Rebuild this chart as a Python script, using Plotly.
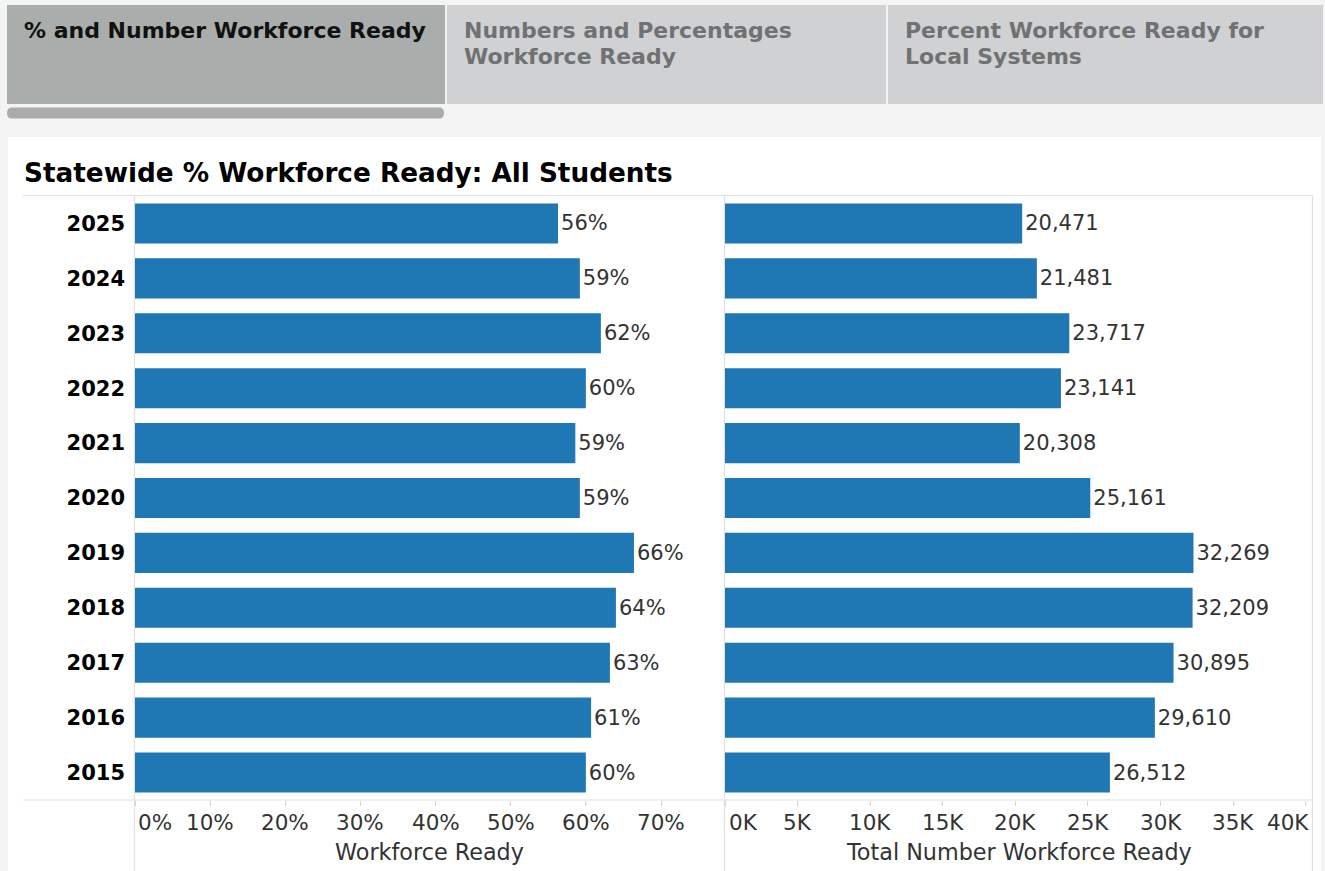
import plotly.graph_objects as go

# ---------------- data ----------------
years = ["2025", "2024", "2023", "2022", "2021", "2020", "2019", "2018", "2017", "2016", "2015"]
pct_ready = [56.3, 59.2, 62.0, 60.0, 58.6, 59.2, 66.4, 64.0, 63.2, 60.7, 60.0]
pct_labels = ["56%", "59%", "62%", "60%", "59%", "59%", "66%", "64%", "63%", "61%", "60%"]
num_ready = [20471, 21481, 23717, 23141, 20308, 25161, 32269, 32209, 30895, 29610, 26512]
num_labels = ["20,471", "21,481", "23,717", "23,141", "20,308", "25,161", "32,269", "32,209", "30,895", "29,610", "26,512"]
pct_ticks = [0, 10, 20, 30, 40, 50, 60, 70]
pct_tick_text = ["0%", "10%", "20%", "30%", "40%", "50%", "60%", "70%"]
num_ticks = [0, 5000, 10000, 15000, 20000, 25000, 30000, 35000, 40000]
num_tick_text = ["0K", "5K", "10K", "15K", "20K", "25K", "30K", "35K", "40K"]
tab1_lines = ["% and Number Workforce Ready"]
tab2_lines = ["Numbers and Percentages", "Workforce Ready"]
tab3_lines = ["Percent Workforce Ready for", "Local Systems"]
title_text = "Statewide % Workforce Ready: All Students"
x1_title = "Workforce Ready"
x2_title = "Total Number Workforce Ready"

W, H = 1325, 871
FONT = "DejaVu Sans"
BLUE = "#1f77b4"
LINE = "#e0e0e0"


def px(x):
    return x / W


def py(y):
    return 1 - y / H


fig = go.Figure()
fig.add_trace(go.Bar(
    y=years, x=pct_ready, orientation="h", marker=dict(color=BLUE, line=dict(width=0)),
    text=pct_labels, textposition="outside", cliponaxis=False,
    textfont=dict(family=FONT, size=21, color="#333333"),
    xaxis="x", yaxis="y", hoverinfo="skip", showlegend=False))
fig.add_trace(go.Bar(
    y=years, x=num_ready, orientation="h", marker=dict(color=BLUE, line=dict(width=0)),
    text=num_labels, textposition="outside", cliponaxis=False,
    textfont=dict(family=FONT, size=21, color="#333333"),
    xaxis="x2", yaxis="y2", hoverinfo="skip", showlegend=False))

plot_top, plot_bot = 196, 800
x1_l, x1_r = 135, 724
x2_l, x2_r = 725, 1312
x1_max = 70 * (x1_r - x1_l) / (661 - x1_l)
x2_max = 40000 * (x2_r - x2_l) / (1305.7 - x2_l)

axis_common = dict(showgrid=False, zeroline=False, showline=False, showticklabels=False,
                   ticks="outside", ticklen=5, tickcolor="#d6d6d6", tickwidth=1,
                   fixedrange=True)
ydomain = [py(plot_bot), py(plot_top)]
fig.update_layout(
    width=W, height=H, margin=dict(l=0, r=0, t=0, b=0),
    paper_bgcolor="#f4f4f4", plot_bgcolor="rgba(0,0,0,0)",
    bargap=0.27,
    xaxis=dict(domain=[px(x1_l), px(x1_r)], range=[0, x1_max], tickvals=pct_ticks,
               anchor="y", **axis_common),
    xaxis2=dict(domain=[px(x2_l), px(x2_r)], range=[0, x2_max], tickvals=num_ticks,
                anchor="y2", **axis_common),
    yaxis=dict(domain=ydomain, autorange="reversed", type="category", showgrid=False,
               zeroline=False, showline=False, ticks="", ticklabelstandoff=9,
               tickfont=dict(family=FONT, size=21, color="#000000", weight="bold"),
               anchor="x", fixedrange=True),
    yaxis2=dict(domain=ydomain, autorange="reversed", type="category", showgrid=False,
                zeroline=False, showline=False, ticks="", showticklabels=False,
                anchor="x2", matches="y", fixedrange=True),
    font=dict(family=FONT),
)

shapes = []
# white panel
shapes.append(dict(type="rect", xref="paper", yref="paper", x0=px(8), x1=px(1321),
                   y0=0, y1=py(137), fillcolor="#ffffff", line=dict(width=0), layer="below"))
# tabs
shapes.append(dict(type="rect", xref="paper", yref="paper", x0=px(7), x1=px(445),
                   y0=py(104), y1=py(5), fillcolor="#a9aeac", line=dict(width=0), layer="below"))
shapes.append(dict(type="rect", xref="paper", yref="paper", x0=px(447), x1=px(886),
                   y0=py(104), y1=py(5), fillcolor="#d0d1d3", line=dict(width=0), layer="below"))
shapes.append(dict(type="rect", xref="paper", yref="paper", x0=px(888), x1=px(1323),
                   y0=py(104), y1=py(5), fillcolor="#d0d1d3", line=dict(width=0), layer="below"))
# scroll pill
shapes.append(dict(type="path", xref="paper", yref="paper",
                   path=f"M {px(12)},{py(107.5)} L {px(439)},{py(107.5)} "
                        f"Q {px(444)},{py(107.5)} {px(444)},{py(113)} "
                        f"Q {px(444)},{py(118.5)} {px(439)},{py(118.5)} "
                        f"L {px(12)},{py(118.5)} Q {px(7)},{py(118.5)} {px(7)},{py(113)} "
                        f"Q {px(7)},{py(107.5)} {px(12)},{py(107.5)} Z",
                   fillcolor="#ababab", line=dict(width=0), layer="below"))
# frame lines
for yy in (195.5, 800):
    shapes.append(dict(type="line", xref="paper", yref="paper", x0=px(23), x1=px(1312.5),
                       y0=py(yy), y1=py(yy), line=dict(color=LINE, width=1.2), layer="below"))
for xx in (134.5, 724.5, 1312.5):
    shapes.append(dict(type="line", xref="paper", yref="paper", x0=px(xx), x1=px(xx),
                       y0=0, y1=py(195.5), line=dict(color=LINE, width=1.2), layer="below"))

annotations = []
for lines, x0, col in ((tab1_lines, 22, "#111111"), (tab2_lines, 462, "#707172"),
                       (tab3_lines, 903, "#707172")):
    for k, ln in enumerate(lines):
        annotations.append(dict(text=f"<b>{ln}</b>", x=px(x0), y=py(31 + 26 * k),
                                xref="paper", yref="paper", xanchor="left", yanchor="middle",
                                showarrow=False, font=dict(family=FONT, size=22, color=col)))
annotations.append(dict(text=f"<b>{title_text}</b>", x=px(22), y=py(173), xref="paper", yref="paper",
                        xanchor="left", yanchor="middle", showarrow=False,
                        font=dict(family=FONT, size=26.3, color="#000000")))
# tick labels
for i, (v, t) in enumerate(zip(pct_ticks, pct_tick_text)):
    anc, sh = ("left", 1) if i == 0 else ("center", 0)
    annotations.append(dict(text=t, x=v, xref="x", y=py(822), yref="paper", xanchor=anc,
                            xshift=sh, yanchor="middle", showarrow=False,
                            font=dict(family=FONT, size=21.5, color="#333333")))
for i, (v, t) in enumerate(zip(num_ticks, num_tick_text)):
    if i == 0:
        anc, sh = "left", 2
    elif i == len(num_ticks) - 1:
        anc, sh = "right", 5
    else:
        anc, sh = "center", 0
    annotations.append(dict(text=t, x=v, xref="x2", y=py(822), yref="paper", xanchor=anc,
                            xshift=sh, yanchor="middle", showarrow=False,
                            font=dict(family=FONT, size=21.5, color="#333333")))
annotations.append(dict(text=x1_title, x=px((x1_l + x1_r) / 2), y=py(852), xref="paper", yref="paper",
                        xanchor="center", yanchor="middle", showarrow=False,
                        font=dict(family=FONT, size=22.3, color="#333333")))
annotations.append(dict(text=x2_title, x=px((x2_l + x2_r) / 2), y=py(852), xref="paper", yref="paper",
                        xanchor="center", yanchor="middle", showarrow=False,
                        font=dict(family=FONT, size=22.3, color="#333333")))

fig.update_layout(shapes=shapes, annotations=annotations)
fig.write_html("out.html", config={"displayModeBar": False},
               post_script="document.body.style.margin='0';document.body.style.overflow='hidden';")
